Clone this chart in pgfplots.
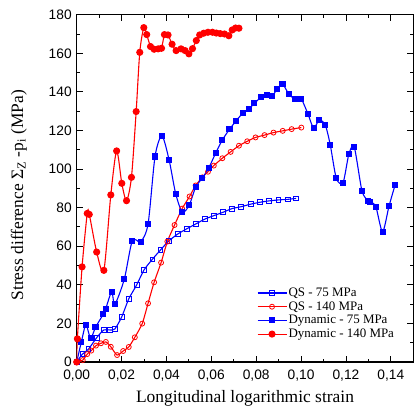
\documentclass[border=0pt]{standalone}
\usepackage{fontspec}
\setmainfont{Liberation Sans}
\newfontfamily\timesfont{Liberation Serif}
\usepackage{pgfplots}
\pgfplotsset{compat=1.18}
\begin{document}
\begin{tikzpicture}
\begin{axis}[
  scale only axis,
  width=336.6bp, height=347.3bp,
  xmin=0, xmax=0.15, ymin=0, ymax=180,
  axis line style={line width=1.5bp},
  tick style={black, line width=0.9bp},
  tick align=inside,
  major tick length=6bp, minor tick length=3.5bp,
  xtick={0,0.02,0.04,0.06,0.08,0.10,0.12,0.14},
  xticklabels={{0,00},{0,02},{0,04},{0,06},{0,08},{0,10},{0,12},{0,14}},
  minor xtick={0.01,0.03,0.05,0.07,0.09,0.11,0.13},
  ytick={0,20,40,60,80,100,120,140,160,180},
  yticklabels={0,20,40,60,80,100,120,140,160,180},
  minor ytick={10,30,50,70,90,110,130,150,170},
  ticklabel style={font=\fontsize{13.8}{15}\selectfont},
  xticklabel style={yshift=-4.5bp},
  yticklabel style={xshift=-1.5bp},
  scaled x ticks=false,
  xlabel={Longitudinal logarithmic strain},
  ylabel={Stress difference Σ\textsubscript{Z} -p\textsubscript{i} (MPa)},
  label style={font=\timesfont\fontsize{17.5}{19}\selectfont},
  xlabel style={at={(axis description cs:0.5,0)}, anchor=base, yshift=-40.5bp},
  ylabel style={at={(axis description cs:-0.1595,0.48)}, anchor=base},
  legend style={at={(axis description cs:0.535,0.218)}, anchor=north west,
    draw=none, fill=none, inner sep=0pt, row sep=0.6bp,
    font=\timesfont\fontsize{13}{14.5}\selectfont,
    nodes={inner sep=1.5bp}},
  legend cell align=left,
  legend image code/.code={\draw[mark repeat=2,mark phase=2,#1] plot coordinates {(0bp,0bp) (14.5bp,0bp) (29bp,0bp)};},
  every axis plot/.append style={line width=1.1bp},
]
\addplot[blue, smooth, tension=0.4, mark=square, mark size=2.4bp, mark options={line width=0.8bp, fill=white}]
coordinates {(0,0)(0.0025,4)(0.0052,6.6)(0.0089,12.6)(0.0121,16.6)(0.0148,16.6)(0.017,17.1)(0.02,23.2)(0.0232,32.7)(0.0267,39.9)(0.03,47.7)(0.0337,53.2)(0.0373,58)(0.041,62.7)(0.045,66.3)(0.049,69)(0.053,71.5)(0.057,74)(0.061,75.8)(0.0652,77.6)(0.0692,79.5)(0.0733,80.5)(0.0775,81.8)(0.0817,82.8)(0.0857,83.5)(0.0899,84)(0.094,84.3)(0.0978,84.8)};
\addlegendentry{QS - 75 MPa}
\addplot[red, smooth, tension=0.4, mark=o, mark size=2.5bp, mark options={line width=0.8bp, fill=white}]
coordinates {(0,0)(0.0027,1)(0.0047,4.1)(0.0065,5.9)(0.0086,8.5)(0.0108,9.7)(0.013,10.4)(0.0152,7.9)(0.018,3.6)(0.0207,5.7)(0.0232,7.8)(0.0259,12.8)(0.0292,19.9)(0.0318,30.4)(0.0345,41.3)(0.0376,51.5)(0.0404,62.4)(0.0436,71)(0.047,79.5)(0.0503,85.8)(0.053,91.5)(0.056,95.7)(0.0585,98.6)(0.0611,101.8)(0.0649,105.6)(0.0686,108.9)(0.0723,112.1)(0.076,114.4)(0.0797,116.4)(0.0837,117.6)(0.0877,118.9)(0.0918,119.8)(0.0958,120.7)(0.1001,121.5)};
\addlegendentry{QS - 140 MPa}
\addplot[blue, smooth, tension=0.45, mark=square*, mark size=2.5bp]
coordinates {(0,0)(0.0021,10.5)(0.0041,19.3)(0.0062,12.3)(0.0084,18)(0.0118,24.7)(0.0129,27.5)(0.0156,36.4)(0.017,29.9)(0.0212,42.9)(0.0248,62.9)(0.0285,62.3)(0.0318,71.5)(0.0349,106.5)(0.038,117.2)(0.0412,104.6)(0.0441,87.3)(0.0471,77.6)(0.0502,81.4)(0.053,90.6)(0.056,95.4)(0.0589,100.7)(0.0619,108.2)(0.0649,115.1)(0.0681,120.6)(0.0711,125.1)(0.074,128.9)(0.0766,131)(0.0792,134.1)(0.0822,137.2)(0.0847,138.4)(0.0871,137.9)(0.0893,141.4)(0.0917,144.1)(0.0945,138.9)(0.0973,136.3)(0.1001,136.2)(0.1031,128.4)(0.1056,121.2)(0.1081,125.5)(0.1108,122.7)(0.113,112.5)(0.1157,95.2)(0.1187,93)(0.1213,107.8)(0.1237,111.3)(0.1271,88.8)(0.1298,83.6)(0.1308,83.1)(0.1333,80.5)(0.1363,67.5)(0.1392,80.9)(0.1419,91.8)};
\addlegendentry{Dynamic - 75 MPa}
\addplot[red, smooth, tension=0.45, mark=*, mark size=3bp]
coordinates {(0,0)(0.0003,12)(0.0024,49.3)(0.0047,77)(0.0056,76.5)(0.0089,57)(0.0121,47.5)(0.0152,86.6)(0.0178,109.4)(0.0201,92.6)(0.0222,83.6)(0.0244,95.7)(0.0265,129.8)(0.0281,160.5)(0.0299,173.3)(0.0312,169.7)(0.0329,163.5)(0.0345,162.1)(0.0363,162.3)(0.0378,162.6)(0.0391,169.7)(0.0407,169.5)(0.0425,164.7)(0.0443,161.4)(0.0465,162.3)(0.0483,161.4)(0.05,159.7)(0.0516,162.4)(0.0533,166.6)(0.0548,169.5)(0.0566,170.4)(0.0585,170.9)(0.0605,170.9)(0.0622,170.5)(0.064,170.2)(0.0659,170)(0.0678,169.1)(0.0693,172.1)(0.0708,173.1)(0.0723,173)};
\addlegendentry{Dynamic - 140 MPa}
\end{axis}
\pgfresetboundingbox
\path (current axis.south west) ++(-76.7bp,-44bp) rectangle ++(418bp,406bp);
\end{tikzpicture}
\end{document}
